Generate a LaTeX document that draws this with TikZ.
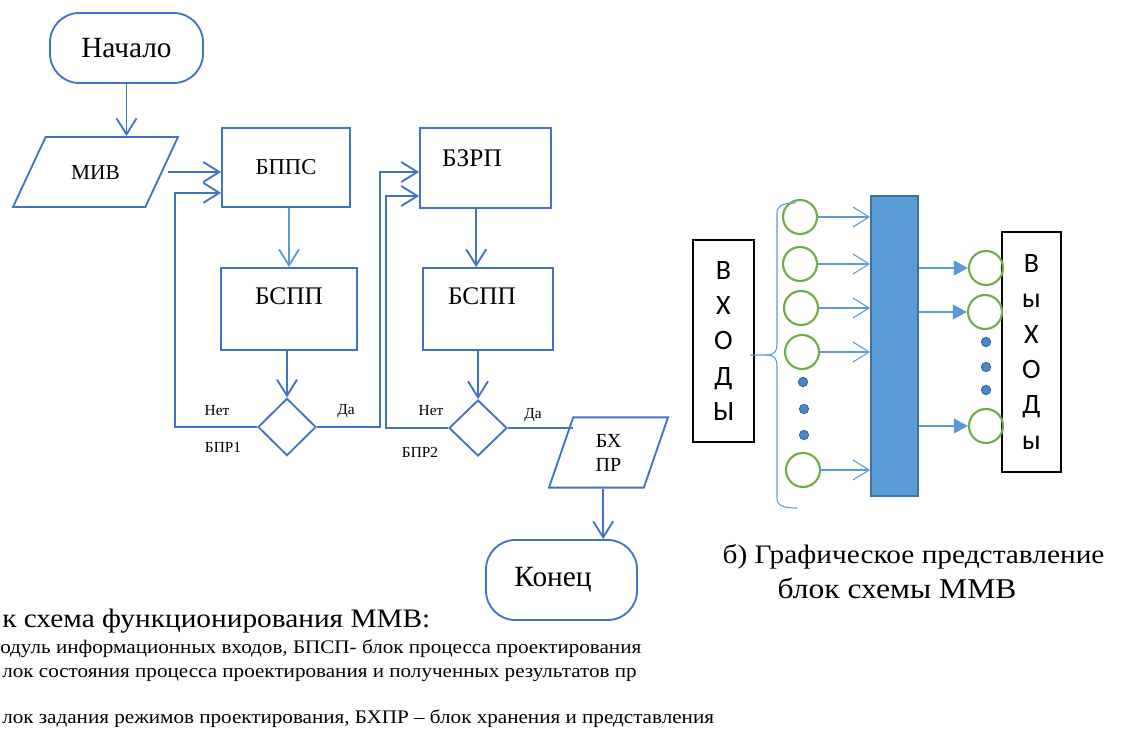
\documentclass[tikz,border=0pt]{standalone}
\usepackage{fontspec}
\setmainfont{Liberation Serif}
\newfontfamily\calibri{Carlito}
\newfontfamily\capfont[FakeStretch=1.1]{Liberation Serif}
\usetikzlibrary{arrows.meta, shapes.geometric}
\definecolor{flowBlue}{HTML}{4472C4}
\definecolor{lightBlue}{HTML}{5B9BD5}
\definecolor{barEdge}{HTML}{41719C}
\definecolor{ringGreen}{HTML}{70AD47}
\definecolor{dotBlue}{HTML}{4A86C8}
\definecolor{dotEdge}{HTML}{2F5F9A}
\tikzset{
  nodeAll/.style={draw=flowBlue, line width=1.4pt, inner sep=0pt, align=center},
  nodeTerm/.style={rectangle, rounded corners=22pt, font=\fontsize{22}{26}\selectfont},
  nodeData/.style={trapezium, trapezium stretches body},
  nodeCond/.style={diamond},
  flowArrow/.style={draw=flowBlue, line width=1.4pt, -{Straight Barb[length=12pt,width=15pt]}},
  flowLine/.style={draw=flowBlue, line width=1.4pt},
  txtBig/.style={font=\fontsize{19}{22}\selectfont},
  txtSmall/.style={font=\fontsize{11.5}{13}\selectfont},
  ring/.style={circle, draw=ringGreen, line width=1.6pt, minimum size=25.5pt, inner sep=0pt},
  dotMark/.style={circle, fill=dotBlue, draw=dotEdge, line width=0.6pt, minimum size=7pt, inner sep=0pt},
  inArrow/.style={draw=lightBlue, line width=0.8pt, -{Straight Barb[length=12pt,width=15pt]}},
  outArrow/.style={draw=lightBlue, line width=1.2pt, -{Triangle[length=10.5pt,width=11pt]}},
  letterBox/.style={draw=black, line width=0.8pt, inner sep=0pt, align=center, font=\calibri\fontsize{21}{26.5}\selectfont},
  caption/.style={anchor=base west, inner sep=0pt}
}

\begin{document}
\begin{tikzpicture}[x=0.75pt, y=-0.75pt]
  \useasboundingbox (0,0) rectangle (1124,731);

  % a) flowchart
  \node[nodeAll, nodeTerm, minimum width=114.75pt, minimum height=52.5pt] (Start) at (126.5,48) {Начало};
  \node[nodeAll, nodeData, trapezium left angle=65, trapezium right angle=115, minimum width=123.75pt,
        text height=11pt, text depth=0pt, inner ysep=20.75pt, font=\fontsize{16}{19}\selectfont] (MIV) at (95.5,172) {МИВ};
  \node[nodeAll, minimum width=96pt, minimum height=59.25pt, font=\fontsize{17}{20}\selectfont] (BPPS) at (286,167.5) {БППС};
  \node[nodeAll, minimum width=102pt, minimum height=61.5pt] (BSPP1) at (289,309) {};
  \node[txtBig] (BSPP1-t) at (289,296) {БСПП};
  \node[nodeAll, nodeCond, minimum width=43.5pt, minimum height=43pt] (BPR1) at (287,427) {};
  \node[nodeAll, minimum width=98.25pt, minimum height=60pt] (BZRP) at (485.5,168) {};
  \node[txtBig] (BZRP-t) at (472,158) {БЗРП};
  \node[nodeAll, minimum width=97.5pt, minimum height=61.5pt] (BSPP2) at (488,309) {};
  \node[txtBig] (BSPP2-t) at (482,296) {БСПП};
  \node[nodeAll, nodeCond, minimum width=43.5pt, minimum height=42pt] (BPR2) at (478,428) {};
  \node[nodeAll, nodeData, trapezium left angle=71, trapezium right angle=109, minimum width=89.25pt,
        inner ysep=12.4pt, font=\fontsize{15}{18}\selectfont] (BXPR) at (608.5,452.5) {БХ\\ПР};
  \node[nodeAll, nodeTerm, minimum width=113.25pt, minimum height=60pt] (Finish) at (561.5,580) {};
  \node[font=\fontsize{22}{26}\selectfont] (Finish-t) at (553,580) {Конец};

  \node[txtSmall] (no1) at (217,411) {Нет};
  \node[txtSmall] (yes1) at (346,411) {Да};
  \node[txtSmall] (BPR1-l) at (223,447) {БПР1};
  \node[txtSmall] (no2) at (431,411) {Нет};
  \node[txtSmall] (yes2) at (533,415) {Да};
  \node[txtSmall] (BPR2-l) at (420,452) {БПР2};

  \draw[flowArrow] (Start.south) -- (Start.south |- MIV.north);
  \draw[flowArrow] ([xshift=4pt]MIV.east) -- (MIV.east -| BPPS.west);
  \draw[flowArrow] (BPR1.west) -- ++(-82,0) |- ([yshift=-19pt]BPPS.west);
  \draw[flowArrow, draw=lightBlue] (BSPP1.north |- BPPS.south) -- (BSPP1.north);
  \draw[flowArrow] (BPR1.north |- BSPP1.south) -- (BPR1.north);
  \draw[flowArrow] (BPR1.east) -- ++(63,0) |- ([yshift=-3pt]BZRP.west);
  \draw[flowArrow] (BPR2.west) -- ++(-62,0) |- ([yshift=-21pt]BZRP.west);
  \draw[flowArrow] ([xshift=-7pt]BZRP.south) -- ([xshift=-7pt]BZRP.south |- BSPP2.north);
  \draw[flowArrow] (BPR2.north |- BSPP2.south) -- (BPR2.north);
  \draw[flowLine] (BPR2.east) -- (BPR2.east -| BXPR.top left corner);
  \draw[flowArrow] ([xshift=-4pt]BXPR.south) -- ([xshift=-4pt]BXPR.south |- Finish.north);

  % b) block view
  \node[letterBox, minimum width=45.75pt, minimum height=151.5pt] (Inputs) at (723.5,341) {В\\Х\\О\\Д\\Ы};
  \node[letterBox, minimum width=44.25pt, minimum height=180pt] (Outputs) at (1031.5,352) {В\\ы\\Х\\О\\Д\\ы};
  \node[draw=barEdge, fill=lightBlue, line width=1.5pt, minimum width=35.25pt, minimum height=225pt, inner sep=0pt] (Bar) at (894.5,346) {};

  \node[ring] (in1) at (800,217) {};
  \node[ring] (in2) at (800,264) {};
  \node[ring] (in3) at (801,308) {};
  \node[ring] (in4) at (802,352) {};
  \node[ring] (in5) at (803,470) {};
  \node[dotMark] (dIn1) at (803,382) {};
  \node[dotMark] (dIn2) at (804,409) {};
  \node[dotMark] (dIn3) at (804,435) {};

  \node[ring] (out1) at (986,268) {};
  \node[ring] (out2) at (985,312) {};
  \node[ring] (out3) at (986,426) {};
  \node[dotMark] (dOut1) at (986,342) {};
  \node[dotMark] (dOut2) at (986,367) {};
  \node[dotMark] (dOut3) at (986,390) {};

  \foreach \i in {1,...,5}
    \draw[inArrow] (in\i.east) -- (in\i.east -| Bar.west);
  \foreach \i in {1,2,3}
    \draw[outArrow] (Bar.east |- out\i.west) -- (out\i.west);

  \draw[lightBlue, line width=0.8pt]
    (750,355) -- (766,355) .. controls (775,355) and (777,351) .. (777,344) -- (777,213)
    .. controls (777,206) and (782,203) .. (796,203);
  \draw[lightBlue, line width=0.8pt]
    (766,355) .. controls (775,355) and (777,359) .. (777,366) -- (777,498)
    .. controls (777,505) and (782,508) .. (797,508);

  % captions
  \node[anchor=base, font=\capfont\fontsize{20}{24}\selectfont] (capB1) at (913.5,563) {б) Графическое представление};
  \node[anchor=base, font=\capfont\fontsize{21.5}{24}\selectfont] (capB2) at (897,598) {блок схемы ММВ};
  \node[caption, font=\capfont\fontsize{20}{22}\selectfont] (capA1) at (2,627) {к схема функционирования ММВ:};
  \node[caption, font=\capfont\fontsize{14.4}{16}\selectfont] (capA2) at (0,653) {одуль информационных входов, БПСП- блок процесса проектирования};
  \node[caption, font=\capfont\fontsize{14.4}{16}\selectfont] (capA3) at (2,677) {лок состояния процесса проектирования и полученных результатов пр};
  \node[caption, font=\capfont\fontsize{14.4}{16}\selectfont] (capA4) at (2,723) {лок задания режимов проектирования, БХПР – блок хранения и представления};
\end{tikzpicture}
\end{document}
